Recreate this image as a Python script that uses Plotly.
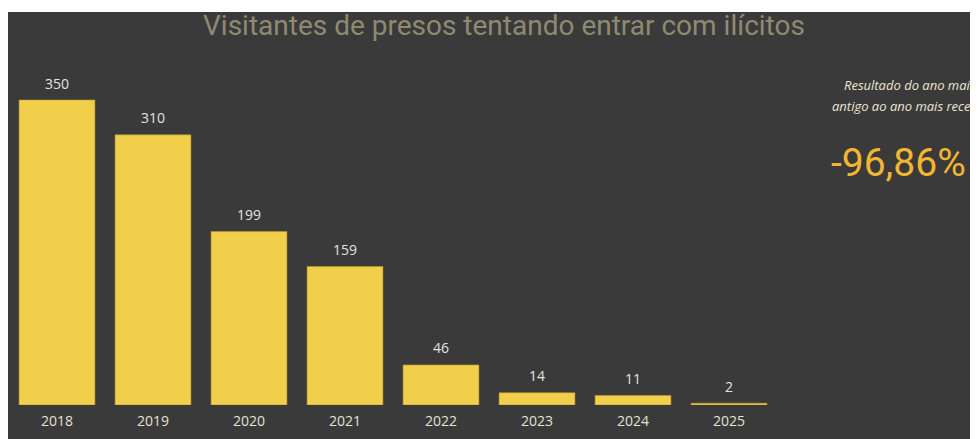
import plotly.graph_objects as go

years = ["2018", "2019", "2020", "2021", "2022", "2023", "2024", "2025"]
visitantes = [350, 310, 199, 159, 46, 14, 11, 2]
title_text = "Visitantes de presos tentando entrar com ilícitos"
kpi_caption_1 = "Resultado do ano mais"
kpi_caption_2 = "antigo ao ano mais recente"
kpi_value = "-96,86%"

OFF = 8  # page body margin
W, H = 978 - OFF, 439 - OFF
PL, PR, PT, PB = 9, 777, 56, 405  # plot area in page pixels

def px(x):
    return (x - PL) / (PR - PL)

def py(y):
    return (PB - y) / (PB - PT)

BG = "#3b3a3a"
LABEL_FONT = "Open Sans"

fig = go.Figure(go.Bar(
    x=years, y=visitantes,
    marker=dict(color="#f2cf4a", line=dict(color="#b89a30", width=0.6)),
    hoverinfo="skip",
))

# value labels: category axis positions are category indices
annotations = [
    dict(x=i, y=v, xref="x", yref="y", text=str(v), showarrow=False,
         xanchor="center", yanchor="middle", yshift=17,
         font=dict(family=LABEL_FONT, size=14, color="#e2e2e2"))
    for i, v in enumerate(visitantes)
]

annotations += [
    dict(text=title_text, xref="paper", yref="paper",
         x=px(504), y=py(26), xanchor="center", yanchor="middle",
         showarrow=False,
         font=dict(family="Roboto, sans-serif", size=28, color="#8e8a72")),
    dict(text="<i>" + kpi_caption_1 + "</i>", xref="paper", yref="paper",
         x=px(910), y=py(85), xanchor="center", yanchor="middle",
         showarrow=False,
         font=dict(family=LABEL_FONT, size=13, color="#ece6d0")),
    dict(text="<i>" + kpi_caption_2 + "</i>", xref="paper", yref="paper",
         x=px(910), y=py(106), xanchor="center", yanchor="middle",
         showarrow=False,
         font=dict(family=LABEL_FONT, size=13, color="#ece6d0")),
    dict(text=kpi_value, xref="paper", yref="paper",
         x=px(898), y=py(163), xanchor="center", yanchor="middle",
         showarrow=False,
         font=dict(family="Roboto, sans-serif", size=39, color="#f3b630")),
]

fig.update_layout(
    width=W, height=H,
    margin=dict(l=PL - OFF, r=(W + OFF) - PR, t=PT - OFF, b=(H + OFF) - PB, autoexpand=False),
    paper_bgcolor="white",
    plot_bgcolor="rgba(0,0,0,0)",
    bargap=0.21,
    showlegend=False,
    xaxis=dict(
        type="category", range=[-0.5, 7.5], showgrid=False, zeroline=False,
        showline=False, ticks="", ticklabelstandoff=6,
        tickfont=dict(family=LABEL_FONT, size=14, color="#e4e0d6"),
    ),
    yaxis=dict(range=[0, 400.5], visible=False, showgrid=False, zeroline=False),
    shapes=[dict(
        type="rect", xref="paper", yref="paper", layer="below",
        x0=px(0), x1=px(W + OFF + 4), y0=py(H + OFF + 4), y1=py(12),
        fillcolor=BG, line=dict(width=0),
    )],
    annotations=annotations,
)

fig.write_html("out.html")
